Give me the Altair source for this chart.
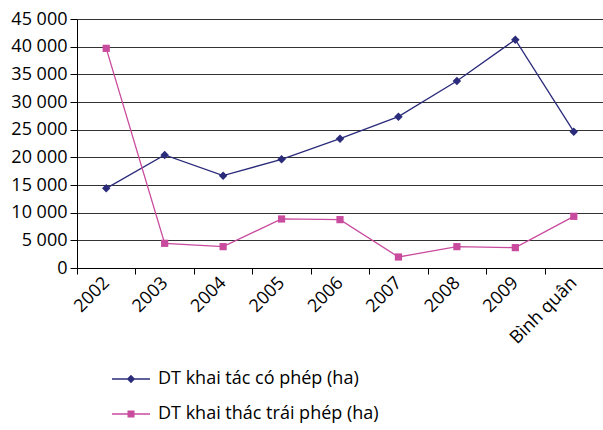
import altair as alt
import pandas as pd

# Data: area (ha) by year, licensed vs. illegal logging
categories = ["2002", "2003", "2004", "2005", "2006", "2007", "2008", "2009", "Bình quân"]
licensed = [14400, 20420, 16690, 19640, 23370, 27350, 33800, 41270, 24640]
illegal = [39700, 4460, 3860, 8860, 8740, 1990, 3860, 3680, 9340]
series_names = ["DT khai tác có phép (ha)", "DT khai thác trái phép (ha)"]
series_colors = ["#2B2B7B", "#C94B9E"]
series_shapes = ["diamond", "square"]
series_sizes = [72, 52]
y_ticks = [0, 5000, 10000, 15000, 20000, 25000, 30000, 35000, 40000, 45000]

rows = []
for name, values in zip(series_names, [licensed, illegal]):
    for cat, val in zip(categories, values):
        rows.append({"cat": cat, "series": name, "value": val})
df = pd.DataFrame(rows)

FONT = "Open Sans"

# legend glyphs: a thin bar with the series marker on it (all filled)
legend_paths = [
    "M-1.36,-0.045H1.36V0.045H-1.36ZM0,-0.3L0.3,0L0,0.3L-0.3,0Z",
    "M-1.36,-0.045H1.36V0.045H-1.36ZM-0.25,-0.25H0.25V0.25H-0.25Z",
]

x_enc = alt.X(
    "cat:N",
    sort=categories,
    scale=alt.Scale(type="band", paddingInner=0, paddingOuter=0),
    axis=alt.Axis(
        title=None,
        labelAngle=-45,
        labelAlign="right",
        labelBaseline="middle",
        tickBand="extent",
        tickSize=6,
        labelPadding=6,
        grid=False,
        domainColor="#000000",
        tickColor="#000000",
        labelFont=FONT,
        labelFontSize=18,
        labelColor="#000000",
    ),
)
y_enc = alt.Y(
    "value:Q",
    scale=alt.Scale(domain=[0, 45000], nice=False),
    axis=alt.Axis(
        title=None,
        values=y_ticks,
        labelExpr="replace(format(datum.value, ','), ',', ' ')",
        tickSize=7,
        labelPadding=3,
        grid=True,
        gridColor="#333333",
        gridOpacity=1,
        domainColor="#000000",
        tickColor="#000000",
        labelFont=FONT,
        labelFontSize=18,
        labelColor="#000000",
    ),
)

base = alt.Chart(df).encode(x=x_enc, y=y_enc)

# one line + marker layer per series, each with its own fixed colour
layers = []
for name, color, shape, size in zip(series_names, series_colors, series_shapes, series_sizes):
    sub = base.transform_filter(alt.datum.series == name)
    layers.append(sub.mark_line(strokeWidth=1.3, color=color))
    layers.append(sub.mark_point(shape=shape, filled=True, size=size, opacity=1, color=color))

legend_spec = alt.Legend(
    title=None,
    orient="none",
    legendX=40,
    legendY=346,
    padding=0,
    symbolSize=784,
    symbolStrokeWidth=0,
    symbolOpacity=1,
    labelFont=FONT,
    labelFontSize=18,
    labelColor="#000000",
    labelOffset=13,
    labelLimit=500,
    rowPadding=12,
)
# legend-only layer: no rows survive the filter, entries come from the scale domains
key = base.transform_filter(alt.datum.value < 0).mark_point(filled=True, opacity=1).encode(
    color=alt.Color("series:N", scale=alt.Scale(domain=series_names, range=series_colors), legend=legend_spec),
    shape=alt.Shape("series:N", scale=alt.Scale(domain=series_names, range=legend_paths), legend=legend_spec),
)
layers.append(key)

chart = (
    alt.layer(*layers)
    .properties(
        width=526,
        height=249,
        autosize=alt.AutoSizeParams(type="none"),
        padding={"left": 77, "top": 19, "right": 0, "bottom": 162},
        background="#ffffff",
    )
    .configure_view(stroke=None)
)

chart.save("out.html", embed_options={"renderer": "svg", "actions": False})
